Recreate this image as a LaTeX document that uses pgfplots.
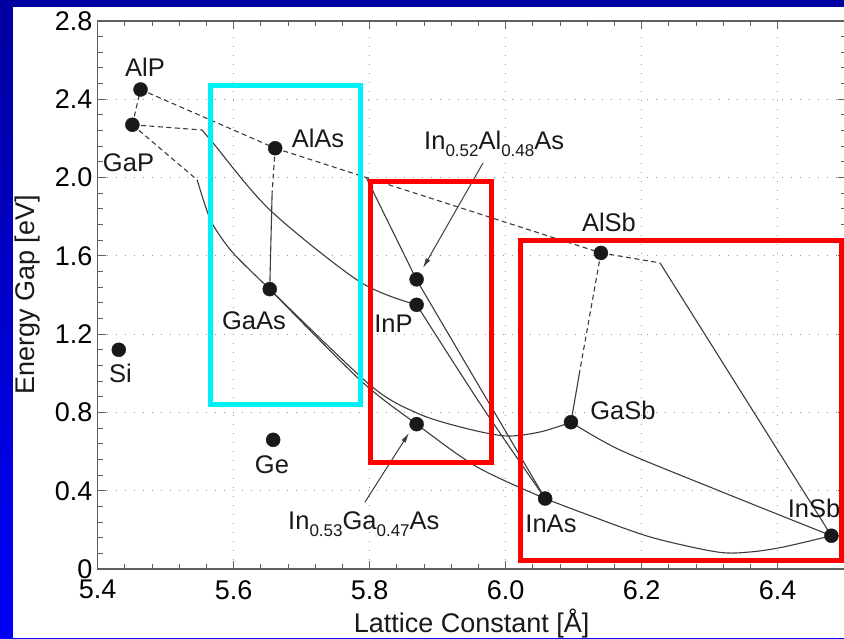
\documentclass[border=0pt]{standalone}
\usepackage{pgfplots}
\pgfplotsset{compat=1.18}
\usepackage{fontspec}
\setmainfont{Liberation Sans}
\usetikzlibrary{arrows.meta}

\definecolor{curve}{RGB}{60,60,60}
\definecolor{dotc}{RGB}{25,25,25}
\definecolor{axisgray}{RGB}{95,95,95}
\definecolor{gridgray}{RGB}{150,150,150}
\definecolor{boxred}{RGB}{255,0,0}
\definecolor{boxcyan}{RGB}{0,240,245}
\definecolor{slidetop}{RGB}{0,0,160}
\definecolor{slidebottom}{RGB}{0,0,250}

\newcommand{\lab}{\fontsize{25.5}{28}\selectfont}
\newcommand{\sub}[1]{\raisebox{-6.5pt}{\fontsize{17}{19}\selectfont #1}}

\tikzset{
  solidline/.style={curve, line width=1.1pt},
  dashline/.style={curve, line width=1.1pt, dash pattern=on 5pt off 3.5pt},
}

\begin{document}
\begin{tikzpicture}
\useasboundingbox (0pt,0pt) rectangle (844pt,638pt);
\clip (0pt,0pt) rectangle (844pt,638pt);
\shade[top color=slidetop, bottom color=slidebottom] (0pt,0pt) rectangle (844pt,638pt);
\fill[white] (13.3pt,0pt) rectangle (844pt,631.3pt);

\begin{axis}[
  at={(97.7pt,69pt)}, anchor=south west,
  scale only axis, width=748pt, height=548pt,
  xmin=5.4, xmax=6.5, ymin=0, ymax=2.8,
  xtick={5.4,5.6,5.8,6.0,6.2,6.4},
  xticklabels={5.4,5.6,5.8,6.0,6.2,6.4},
  ytick={0,0.4,0.8,1.2,1.6,2.0,2.4,2.8},
  yticklabels={0,0.4,0.8,1.2,1.6,2.0,2.4,2.8},
  minor x tick num=4, minor y tick num=4,
  major tick length=8pt, minor tick length=5pt,
  every tick/.style={axisgray, line width=1pt},
  axis line style={axisgray, line width=1.6pt},
  grid=major,
  major grid style={gridgray, line width=1.1pt, dash pattern=on 1.1pt off 7.9pt},
  ticklabel style={font=\fontsize{27}{30}\selectfont, text=black},
  xticklabel style={inner sep=0pt, anchor=north, yshift=-11pt},
  yticklabel style={inner sep=0pt, anchor=east, xshift=-5pt},
  xlabel={Lattice Constant [Å]},
  ylabel={Energy Gap [eV]},
  label style={font=\fontsize{27}{30}\selectfont, text=black!90},
  xlabel style={at={(axis description cs:0.5,-0.115)}, anchor=base},
  ylabel style={at={(axis description cs:-0.0936,0.5)}, anchor=center},
]

% indirect-gap branches (dashed)
\addplot[dashline] coordinates {(5.451,2.27) (5.463,2.45)};
\addplot[dashline] coordinates {(5.463,2.45) (5.661,2.15)};
\addplot[dashline] coordinates {(5.661,2.15) (6.14,1.615)};
\addplot[dashline] coordinates {(5.451,2.27) (5.5534,2.243)};
\addplot[dashline] coordinates {(5.451,2.27) (5.5463,1.988)};
\addplot[dashline] coordinates {(5.661,2.15) (5.6565,1.921)};
\addplot[dashline] coordinates {(6.14,1.615) (6.1092,1.017)};
\addplot[dashline] coordinates {(6.14,1.615) (6.2269,1.564)};

% direct-gap branches (solid)
% GaInP
\addplot[solidline, smooth, tension=0.5] coordinates {(5.5534,2.243) (5.5696,2.177) (5.6534,1.834) (5.7857,1.467) (5.869,1.35)};
% GaAsP
\addplot[solidline, smooth, tension=0.5] coordinates {(5.5463,1.988) (5.5578,1.86) (5.5696,1.758) (5.599,1.615) (5.653,1.43)};
% AlGaAs
\addplot[solidline] coordinates {(5.6565,1.921) (5.653,1.43)};
% AlInAs
\addplot[solidline] coordinates {(5.795,2.0) (5.869,1.477) (6.058,0.36)};
% InAsP
\addplot[solidline, smooth] coordinates {(5.869,1.35) (5.9637,0.838) (6.058,0.36)};
% InGaAs
\addplot[solidline, smooth] coordinates {(5.653,1.43) (5.7857,0.966) (5.869,0.74) (5.958,0.521) (6.058,0.36)};
% GaAsSb
\addplot[solidline, smooth] coordinates {(5.653,1.43) (5.8004,0.94) (5.8695,0.797) (5.9328,0.726) (5.999,0.68) (6.0504,0.70) (6.096,0.75)};
% AlGaSb
\addplot[solidline] coordinates {(6.1092,1.017) (6.096,0.75)};
% AlInSb
\addplot[solidline] coordinates {(6.2269,1.564) (6.479,0.17)};
% GaInSb
\addplot[solidline, smooth] coordinates {(6.096,0.75) (6.1682,0.608) (6.3108,0.404) (6.479,0.17)};
% InAsSb
\addplot[solidline, smooth] coordinates {(6.058,0.36) (6.1137,0.286) (6.2122,0.164) (6.3108,0.087) (6.3593,0.087) (6.4078,0.112) (6.479,0.17)};

% binary compounds, elements and lattice-matched alloys
\addplot[only marks, mark=*, mark size=7pt, dotc, mark options={draw=dotc, fill=dotc}] coordinates {
  (5.463,2.45) (5.451,2.27) (5.661,2.15) (5.653,1.43) (5.869,1.35)
  (5.869,1.48) (5.869,0.74) (6.14,1.615) (6.096,0.75) (6.058,0.36)
  (6.479,0.17) (5.431,1.12) (5.658,0.66)
};

% labels
\begin{scope}[every node/.style={font=\lab, text=dotc, inner sep=0pt}]
\node[anchor=base] at (axis cs:5.4696,2.514) {AlP};
\node[anchor=base] at (axis cs:5.4453,2.0286) {GaP};
\node[anchor=base] at (axis cs:5.724,2.156) {AlAs};
\node[anchor=base] at (axis cs:5.6299,1.2213) {GaAs};
\node[anchor=base] at (axis cs:5.835,1.206) {InP};
\node[anchor=base] at (axis cs:5.4335,0.9504) {Si};
\node[anchor=base] at (axis cs:5.6563,0.4905) {Ge};
\node[anchor=base] at (axis cs:6.1725,0.7614) {GaSb};
\node[anchor=base] at (axis cs:6.1519,1.722) {AlSb};
\node[anchor=base] at (axis cs:6.0666,0.189) {InAs};
\node[anchor=base] at (axis cs:6.4534,0.2606) {InSb};
\node[anchor=base west] at (axis cs:5.8799,2.141) {In\sub{0.52}Al\sub{0.48}As};
\node[anchor=base west] at (axis cs:5.6799,0.1993) {In\sub{0.53}Ga\sub{0.47}As};
\end{scope}

% pointers to the lattice-matched alloys
\draw[curve, line width=1pt, -{Latex[length=10pt,width=5pt]}] (axis cs:5.9666,2.0746) -- (axis cs:5.8784,1.538);
\draw[curve, line width=1pt, -{Latex[length=10pt,width=5pt]}] (axis cs:5.7931,0.3424) -- (axis cs:5.8578,0.695);

% highlighted regions
\draw[boxcyan, line width=5pt] (axis cs:5.5659,0.8406) rectangle (axis cs:5.7865,2.4706);
\draw[boxred, line width=5pt] (axis cs:5.8012,0.5442) rectangle (axis cs:5.9791,1.980);
\draw[boxred, line width=5pt] (axis cs:6.0218,0.0434) rectangle (axis cs:6.4931,1.6786);
\end{axis}
\end{tikzpicture}
\end{document}
